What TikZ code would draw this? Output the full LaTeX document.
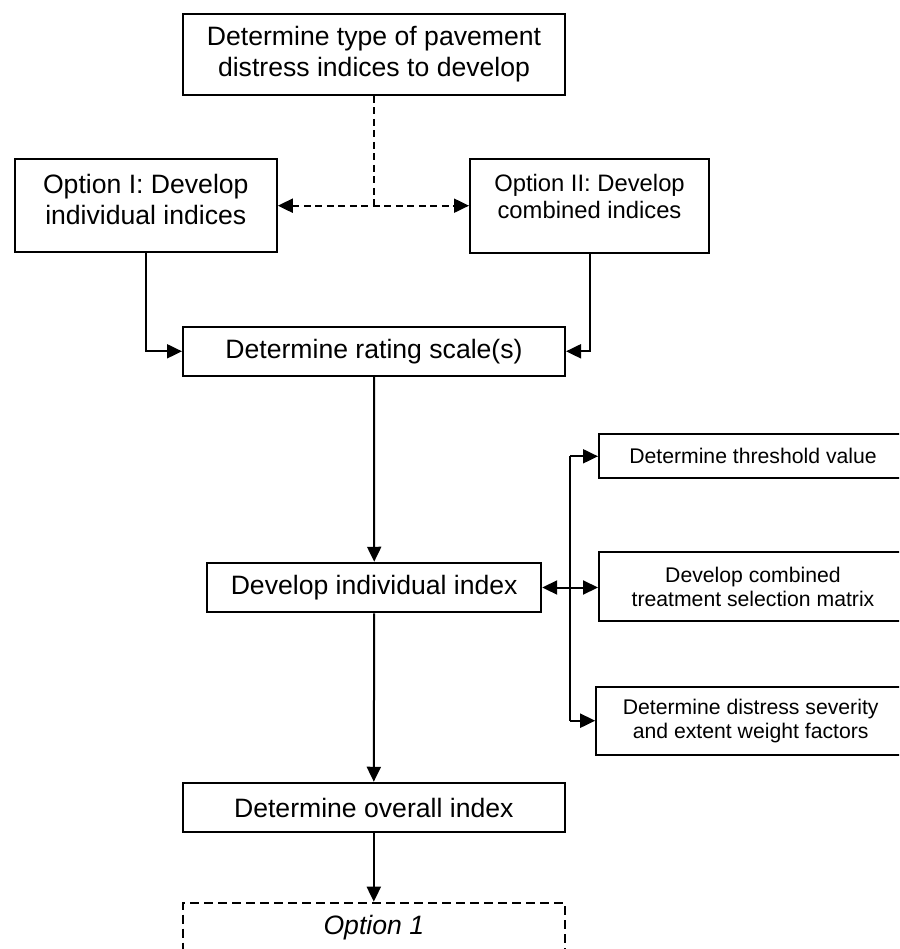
\documentclass[tikz,border=0pt]{standalone}
\usepackage{fontspec}
\setmainfont{Liberation Sans}
\usetikzlibrary{arrows.meta}
\begin{document}
\begin{tikzpicture}[x=1pt,y=-1pt,
  box/.style={draw, line width=2pt, inner sep=0pt, align=center, font=\fontsize{26.6}{31}\selectfont},
  smallbox/.style={box, font=\fontsize{21.2}{24}\selectfont},
  plain/.style={inner sep=0pt, align=center},
  conn/.style={line width=2pt},
  arr/.style={conn, -{Triangle[length=15pt,width=14pt]}},
  darr/.style={conn, {Triangle[length=15pt,width=14pt]}-{Triangle[length=15pt,width=14pt]}},
  dash7/.style={dash pattern=on 7pt off 4.5pt}
]
\useasboundingbox (0,0) rectangle (899,949);
\clip (0,0) rectangle (899,949);
% main column
\node[box, minimum width=382pt, minimum height=81pt] (top) at (374,54.5) {Determine type of pavement\\distress indices to develop};
\node[box, minimum width=262pt, minimum height=93pt] (opt1) at (145.8,205.7) {};
\node[plain, font=\fontsize{26.6}{31}\selectfont] (opt1t) at (145.8,199.5) {Option I: Develop\\individual indices};
\node[box, minimum width=239pt, minimum height=94pt] (opt2) at (589.5,205.7) {};
\node[plain, font=\fontsize{23.8}{27}\selectfont] (opt2t) at (589.5,196.5) {Option II: Develop\\combined indices};
\node[box, minimum width=382pt, minimum height=49.5pt] (rating) at (374,351.3) {Determine rating scale(s)};
\node[box, minimum width=334pt, minimum height=49.5pt] (develop) at (374.2,587.5) {Develop individual index};
\node[box, minimum width=382pt, minimum height=49.5pt] (overall) at (373.8,807.5) {Determine overall index};
\node[box, dashed, dash pattern=on 9pt off 5pt, minimum width=382pt, minimum height=50pt, font=\fontsize{26.6}{31}\selectfont\itshape] (option1) at (373.8,927.7) {Option 1};
% right column
\node[smallbox, minimum width=308pt, minimum height=44pt] (thresh) at (753,456.3) {Determine threshold value};
\node[smallbox, minimum width=308pt, minimum height=69pt] (matrix) at (753,586.5) {Develop combined\\treatment selection matrix};
\node[smallbox, minimum width=309pt, minimum height=68pt] (sever) at (750.7,720.7) {Determine distress severity\\and extent weight factors};
% connectors
\coordinate (j) at (374,205.7);
\draw[conn, dash7] (top.south) -- (j);
\draw[darr, dash7] (opt1.east) -- (opt2.west);
\draw[arr] (opt1.south) |- (rating.west);
\draw[arr] (opt2.south) |- (rating.east);
\draw[arr] (rating.south) -- (develop.north);
\draw[arr] (develop.south) -- (overall.north);
\draw[arr] (overall.south) -- (option1.north);
\coordinate (bus) at (570,587.5);
\draw[conn] (bus |- thresh.west) -- (bus |- sever.west);
\draw[arr] (bus |- thresh.west) -- (thresh.west);
\draw[arr] (bus |- sever.west) -- (sever.west);
\draw[darr] (develop.east) -- (matrix.west |- develop.east);
\end{tikzpicture}
\end{document}
